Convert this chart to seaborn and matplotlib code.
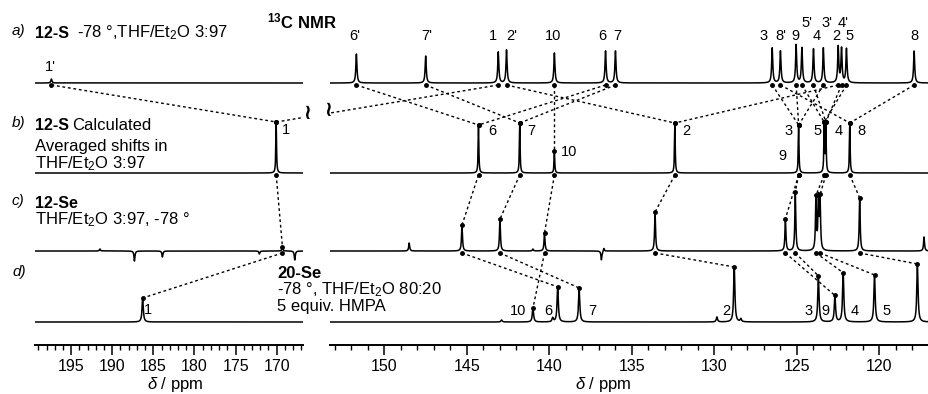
import numpy as np
import matplotlib
matplotlib.use("Agg")
import matplotlib.pyplot as plt
from matplotlib.ticker import MultipleLocator
import seaborn as sns

# ---------------- data (ppm and peak heights in px above each baseline) ----------------
A_PEAKS_R = [151.7, 147.5, 143.1, 142.6, 139.7, 136.6, 136.0, 126.5, 126.0, 125.05,
             124.7, 124.0, 123.4, 122.5, 122.3, 122.0, 117.9]
A_HEIGHTS_R = [29, 27, 31, 33, 30, 32, 32, 35, 32, 38, 35, 34, 35, 36, 34, 34, 32]
A_PEAKS_L = [197.4]
A_HEIGHTS_L = [4]

B_PEAKS_R = [144.3, 141.8, 139.7, 132.4, 124.9, 123.35, 123.25, 121.8]
B_HEIGHTS_R = [48, 50, 22, 50, 48, 48, 48, 50]
B_PEAKS_L = [170.06]
B_HEIGHTS_L = [51]

C_PEAKS_R = [148.5, 145.3, 143.0, 141.0, 140.3, 136.85, 136.7, 133.6, 125.7, 125.1,
             123.85, 123.7, 123.6, 121.2, 117.3]
C_HEIGHTS_R = [8, 26, 32, 2, 18, -9, 3, 39, 32, 59, 52, 50, 50, 53, 14]
C_PEAKS_L = [191.5, 187.3, 183.9, 172.1, 169.3, 167.8]
C_HEIGHTS_L = [2, -10, -6, -3, 4, -9]

D_PEAKS_R = [142.9, 141.0, 139.8, 139.5, 138.2, 129.85, 128.8, 128.4, 123.7, 122.7,
             122.2, 120.3, 117.7]
D_HEIGHTS_R = [2, 14, 4, 35, 34, 5, 55, 3, 46, 26, 49, 47, 58]
D_PEAKS_L = [186.3]
D_HEIGHTS_L = [24]

# peak labels: (text, ppm, y pixel)
A_LABELS_R = [("6'", 151.8, 36), ("7'", 147.45, 36), ("1", 143.45, 36), ("2'", 142.3, 36),
              ("10", 139.8, 36), ("6", 136.8, 36), ("7", 135.9, 36), ("3", 127.0, 36),
              ("8'", 126.0, 36), ("9", 125.1, 36), ("5'", 124.4, 23), ("4", 123.8, 36),
              ("3'", 123.2, 23), ("2", 122.6, 36), ("4'", 122.2, 23), ("5", 121.8, 36),
              ("8", 117.9, 36)]
A_LABELS_L = [("1'", 197.5, 67)]
B_LABELS_R = [("6", 143.45, 131), ("7", 141.1, 131), ("10", 138.8, 152), ("2", 131.7, 131),
              ("3", 125.5, 131), ("9", 125.9, 156), ("5", 123.75, 131), ("4", 122.5, 131),
              ("8", 121.1, 131)]
B_LABELS_L = [("1", 168.85, 130)]
D_LABELS_R = [("10", 141.9, 311), ("6", 140.05, 311), ("7", 137.4, 311), ("2", 129.3, 311),
              ("3", 124.3, 311), ("9", 123.3, 311), ("4", 121.5, 311), ("5", 119.6, 311)]
D_LABELS_L = [("1", 185.7, 310)]

# correlations (ppm in upper spectrum -> ppm in lower spectrum)
AB_R = [(151.7, 144.3), (147.5, 141.8), (142.6, 132.4), (139.7, 139.7), (136.6, 144.3),
        (136.0, 141.8), (126.5, 124.9), (126.0, 121.8), (125.05, 124.9), (124.7, 123.35),
        (124.0, 123.25), (123.4, 124.9), (122.5, 132.4), (122.3, 123.25), (122.0, 123.35),
        (117.9, 121.8)]
AB_L = [(197.4, 170.06)]
AB_X = [(143.1, 170.06)]
BC_R = [(144.3, 145.3), (141.8, 143.0), (139.7, 140.3), (132.4, 133.6), (124.9, 125.7),
        (124.9, 125.1), (123.35, 123.85), (123.25, 123.6), (121.8, 121.2)]
BC_L = [(170.06, 169.3)]
CD_R = [(145.3, 139.5), (143.0, 138.2), (140.3, 141.0), (133.6, 128.8), (125.7, 122.7),
        (125.1, 123.7), (123.85, 122.2), (123.6, 120.3), (121.2, 117.7)]
CD_L = [(169.3, 186.3)]

LEFT_TICKS = [195, 190, 185, 180, 175, 170]
RIGHT_TICKS = [150, 145, 140, 135, 130, 125, 120]

# ---------------- style ----------------
sns.set_theme(style="white")
plt.rcParams['font.family'] = ['Liberation Sans', 'DejaVu Sans']
plt.rcParams['mathtext.fontset'] = 'custom'
plt.rcParams['mathtext.rm'] = 'Liberation Sans'
plt.rcParams['mathtext.it'] = 'Liberation Sans:italic'
plt.rcParams['mathtext.bf'] = 'Liberation Sans:bold'
plt.rcParams['text.color'] = 'black'
plt.rcParams['xtick.color'] = 'black'
plt.rcParams['xtick.labelcolor'] = 'black'
plt.rcParams['axes.labelcolor'] = 'black'

W, H = 929, 394
fig = plt.figure(figsize=(W / 100, H / 100), dpi=100)
fig.patch.set_facecolor('white')

Y_TOP, Y_BOT = 10, 345
axL = fig.add_axes([35 / W, (H - Y_BOT) / H, (303 - 35) / W, (Y_BOT - Y_TOP) / H])
axR = fig.add_axes([330 / W, (H - Y_BOT) / H, (929 - 330) / W, (Y_BOT - Y_TOP) / H])
for ax in (axL, axR):
    ax.set_ylim(H - Y_BOT, H - Y_TOP)
    ax.patch.set_alpha(0)
axL.set_xlim(199.4, 166.8)
axR.set_xlim(153.3, 117.0)

BASE = {"a": H - 83, "b": H - 173, "c": H - 251, "d": H - 322}
WID = {"a": 0.04, "b": 0.025, "c": 0.035, "d": 0.045}

SPEC = {
    ("a", "R"): (A_PEAKS_R, A_HEIGHTS_R), ("a", "L"): (A_PEAKS_L, A_HEIGHTS_L),
    ("b", "R"): (B_PEAKS_R, B_HEIGHTS_R), ("b", "L"): (B_PEAKS_L, B_HEIGHTS_L),
    ("c", "R"): (C_PEAKS_R, C_HEIGHTS_R), ("c", "L"): (C_PEAKS_L, C_HEIGHTS_L),
    ("d", "R"): (D_PEAKS_R, D_HEIGHTS_R), ("d", "L"): (D_PEAKS_L, D_HEIGHTS_L),
}


def lorentz(x, centers, heights, w):
    y = np.zeros_like(x, dtype=float)
    for c, h in zip(centers, heights):
        y += h / (1.0 + ((x - c) / w) ** 2)
    return y


def spec_val(key, side, ppm):
    c, h = SPEC[(key, side)]
    w = WID[key] * (2 if side == "L" else 1)
    return BASE[key] + float(lorentz(np.array([ppm]), c, h, w)[0])


xR = np.linspace(117.0, 153.3, 7261)
xL = np.linspace(166.8, 199.4, 3261)
for (key, side), (c, h) in SPEC.items():
    ax = axR if side == "R" else axL
    x = xR if side == "R" else xL
    w = WID[key] * (2 if side == "L" else 1)
    y = BASE[key] + lorentz(x, c, h, w)
    sns.lineplot(x=x, y=y, ax=ax, color='black', linewidth=1.1,
                 estimator=None, sort=False)

DASH = dict(color='black', linewidth=1.0, linestyle=(0, (2.0, 2.0)))
DOT = dict(color='black', marker='o', markersize=2.5, linestyle='none')


def connect(ax, side, upper, lower, pairs):
    for p1, p2 in pairs:
        y1 = BASE[upper] - 2
        y2 = spec_val(lower, side, p2)
        ax.plot([p1, p2], [y1, y2], **DASH)
        ax.plot([p1, p2], [y1, y2], **DOT)


connect(axR, "R", "a", "b", AB_R)
connect(axL, "L", "a", "b", AB_L)
connect(axR, "R", "b", "c", BC_R)
connect(axL, "L", "b", "c", BC_L)
connect(axR, "R", "c", "d", CD_R)
connect(axL, "L", "c", "d", CD_L)

# correlation crossing the axis break
for pR, pL in AB_X:
    yA = BASE["a"] - 2
    yB = spec_val("b", "L", pL)
    dA = axR.transData.transform((pR, yA))
    dB = axL.transData.transform((pL, yB))
    inL = axL.transData.inverted().transform(dA)
    inR = axR.transData.inverted().transform(dB)
    axL.plot([pL, inL[0]], [yB, inL[1]], **DASH)
    axR.plot([pR, inR[0]], [yA, inR[1]], **DASH)
    axR.plot([pR], [yA], **DOT)
    axL.plot([pL], [yB], **DOT)

# peak labels
LBL = dict(ha='center', va='center', fontsize=10.5, color='black')
for lab, p, yp in A_LABELS_R + B_LABELS_R + D_LABELS_R:
    axR.text(p, H - yp, lab, clip_on=False, **LBL)
for lab, p, yp in A_LABELS_L + B_LABELS_L + D_LABELS_L:
    axL.text(p, H - yp, lab, clip_on=False, **LBL)

# axes styling
for ax, ticks in ((axL, LEFT_TICKS), (axR, RIGHT_TICKS)):
    for s in ('left', 'right', 'top'):
        ax.spines[s].set_visible(False)
    ax.spines['bottom'].set_linewidth(1.4)
    ax.spines['bottom'].set_color('black')
    ax.set_yticks([])
    ax.set_xticks(ticks)
    ax.set_xticklabels([str(t) for t in ticks])
    ax.xaxis.set_minor_locator(MultipleLocator(1))
    ax.tick_params(axis='x', which='major', direction='out', length=7, width=1.1,
                   color='black', labelcolor='black', labelsize=11.5, pad=3, bottom=True)
    ax.tick_params(axis='x', which='minor', direction='out', length=3.5, width=1.0,
                   color='black', bottom=True)
    ax.set_xlabel('')
    ax.set_ylabel('')

REG = 12
BOLD = 11.5


def ftext(x, y, s, **kw):
    kw.setdefault('va', 'center')
    kw.setdefault('fontsize', REG)
    kw.setdefault('color', 'black')
    fig.text(x / W, 1 - y / H, s, **kw)


ftext(175, 385, r'$\delta$ / ppm', ha='center', fontsize=12)
ftext(603, 385, r'$\delta$ / ppm', ha='center', fontsize=12)

ftext(267, 21, r'$^{\mathbf{13}}$C NMR', fontweight='bold', fontsize=12)
ftext(12, 31, 'a)', style='italic', fontsize=11)
ftext(35, 33, '12-S', fontweight='bold', fontsize=BOLD)
ftext(77, 33, '-78 °,THF/Et$_2$O 3:97')
ftext(12, 123, 'b)', style='italic', fontsize=11)
ftext(35, 125, '12-S', fontweight='bold', fontsize=BOLD)
ftext(72, 125, 'Calculated')
ftext(35, 147, 'Averaged shifts in')
ftext(35, 164, 'THF/Et$_2$O 3:97')
ftext(12, 201, 'c)', style='italic', fontsize=11)
ftext(35, 203, '12-Se', fontweight='bold', fontsize=BOLD)
ftext(35, 220, 'THF/Et$_2$O 3:97, -78 °')
ftext(12, 272, 'd)', style='italic', fontsize=11)
ftext(277, 274, '20-Se', fontweight='bold', fontsize=12)
ftext(277, 290, '-78 °, THF/Et$_2$O 80:20')
ftext(277, 306, '5 equiv. HMPA')

# axis-break marks
ftext(307, 113, '≀', ha='center', fontsize=15, fontweight='bold', family='DejaVu Sans')
ftext(328, 110, '≀', ha='center', fontsize=15, fontweight='bold', family='DejaVu Sans')

fig.savefig('out.png', dpi=100, facecolor='white')
